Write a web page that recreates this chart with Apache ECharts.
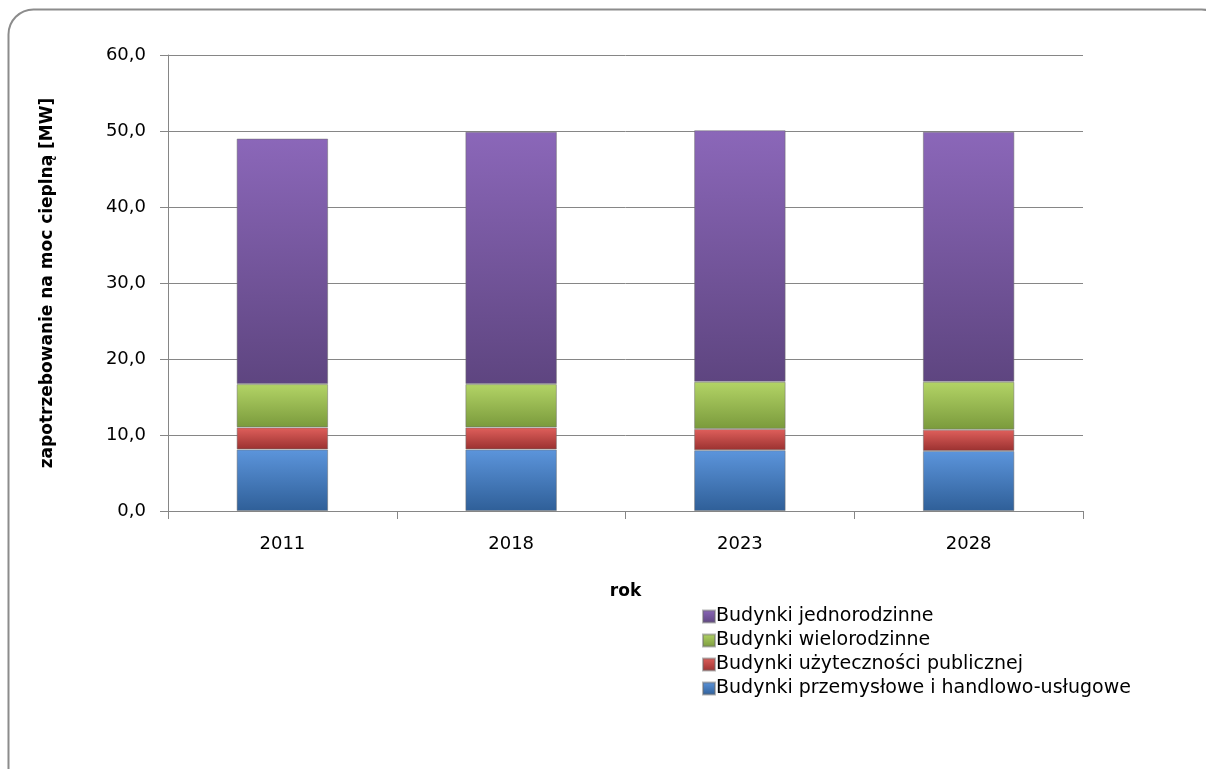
<!DOCTYPE html>
<html lang="pl">
<head>
    <meta charset="UTF-8">
    <title>Zapotrzebowanie na moc cieplną</title>
    <style>
        html, body {
            margin: 0;
            padding: 0;
            background: #fff;
        }

        #chart {
            width: 1206px;
            height: 769px;
        }
    </style>
</head>
<body>
<div id="chart"></div>
<script src="https://cdn.jsdelivr.net/npm/echarts@6/dist/echarts.min.js"></script>
<script>
    var years = ['2011', '2018', '2023', '2028'];

    var przemyslowe = [8.1, 8.1, 8.0, 7.9];
    var uzytecznosci = [2.9, 2.9, 2.8, 2.8];
    var wielorodzinne = [5.7, 5.7, 6.2, 6.3];
    var jednorodzinne = [32.3, 33.2, 33.1, 32.9];

    var names = [
        'Budynki przemysłowe i handlowo-usługowe',
        'Budynki użyteczności publicznej',
        'Budynki wielorodzinne',
        'Budynki jednorodzinne'
    ];

    var font = '"DejaVu Sans", Verdana, sans-serif';

    // light at the top, dark at the bottom, like the excel bevel
    var grad = function (top, bottom) {
        return new echarts.graphic.LinearGradient(0, 0, 0, 1, [
            {offset: 0, color: top},
            {offset: 1, color: bottom}
        ]);
    };

    var makeSeries = function (name, data, top, bottom) {
        return {
            name: name,
            type: 'bar',
            stack: 'total',
            barWidth: '40%',
            data: data,
            itemStyle: {
                color: grad(top, bottom),
                borderColor: 'rgba(110,110,110,0.5)',
                borderWidth: 1
            }
        };
    };

    var option = {
        animation: false,
        textStyle: {fontFamily: font},
        graphic: [
            {
                type: 'rect',
                shape: {x: 8.5, y: 9.5, width: 1218, height: 800, r: 25},
                style: {fill: 'none', stroke: '#8c8c8c', lineWidth: 2},
                silent: true
            }
        ],
        grid: {
            left: 168,
            right: 123,
            top: 55,
            bottom: 258
        },
        legend: {
            orient: 'vertical',
            left: 697,
            top: 602,
            itemWidth: 12,
            itemHeight: 12,
            itemGap: 5,
            icon: 'rect',
            data: names.slice().reverse(),
            textStyle: {
                fontFamily: font,
                fontSize: 19,
                lineHeight: 19,
                color: '#000',
                padding: [0, 0, 0, -4]
            }
        },
        xAxis: {
            type: 'category',
            data: years,
            name: 'rok',
            nameLocation: 'middle',
            nameGap: 72,
            nameTextStyle: {
                fontFamily: font,
                fontSize: 17,
                fontWeight: 'bold',
                color: '#000'
            },
            axisLine: {lineStyle: {color: '#868686', width: 1}},
            axisTick: {show: true, length: 8, lineStyle: {color: '#868686'}},
            axisLabel: {
                fontFamily: font,
                fontSize: 18,
                color: '#000',
                margin: 24
            }
        },
        yAxis: {
            type: 'value',
            min: 0,
            max: 60,
            interval: 10,
            name: 'zapotrzebowanie na moc cieplną [MW]',
            nameLocation: 'middle',
            nameGap: 112,
            nameTextStyle: {
                fontFamily: font,
                fontSize: 17,
                fontWeight: 'bold',
                color: '#000'
            },
            axisLine: {show: true, lineStyle: {color: '#868686', width: 1}},
            axisTick: {show: true, length: 8, lineStyle: {color: '#868686'}},
            splitLine: {lineStyle: {color: '#868686', width: 1}},
            axisLabel: {
                fontFamily: font,
                fontSize: 18,
                color: '#000',
                margin: 22,
                formatter: function (v) {
                    return v.toFixed(1).replace('.', ',');
                }
            }
        },
        series: [
            makeSeries(names[0], przemyslowe, '#5c95dc', '#2f5f98'),
            makeSeries(names[1], uzytecznosci, '#e0605c', '#9a3130'),
            makeSeries(names[2], wielorodzinne, '#b3d466', '#7a9a3c'),
            makeSeries(names[3], jednorodzinne, '#8b67b9', '#5e4580')
        ]
    };

    var myChart = echarts.init(document.getElementById('chart'));
    myChart.setOption(option);
</script>
</body>
</html>
